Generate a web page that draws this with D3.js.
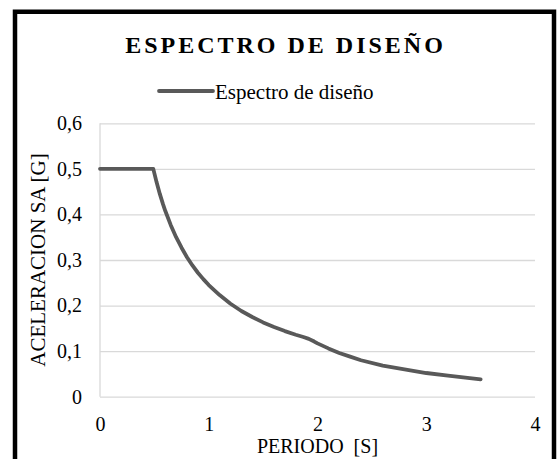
<!DOCTYPE html>
<html>
<head>
<meta charset="utf-8">
<script src="https://cdn.jsdelivr.net/npm/d3@7"></script>
<style>
  html, body { margin: 0; padding: 0; background: #fff; }
  svg { display: block; }
</style>
</head>
<body>
<svg id="chart" width="558" height="459"></svg>
<script>
// ---- data ----
const chartTitle = "ESPECTRO DE DISEÑO";
const seriesName = "Espectro de diseño";
const xAxisTitle = "PERIODO\u00A0\u00A0[S]";
const yAxisTitle = "ACELERACION SA [G]";
const periods = [0, 0.49, 0.52, 0.55, 0.58, 0.6, 0.65, 0.7, 0.75, 0.8, 0.85, 0.9, 0.95, 1.0, 1.1, 1.2, 1.3, 1.4, 1.5, 1.6, 1.7, 1.8, 1.87, 1.92,
                 1.97, 2.0, 2.1, 2.2, 2.3, 2.4, 2.6, 2.8, 3.0, 3.2, 3.4, 3.5];
const accel   = [0.5, 0.5, 0.471, 0.445, 0.422, 0.408, 0.377, 0.35, 0.327, 0.306, 0.288, 0.272, 0.258, 0.245, 0.223, 0.204, 0.188, 0.175, 0.163, 0.153, 0.144, 0.136, 0.131, 0.127,
                 0.121, 0.117, 0.106, 0.096, 0.088, 0.080, 0.068, 0.060, 0.052, 0.046, 0.041, 0.038];
const xTicks = [0, 1, 2, 3, 4];
const yTicks = [0, 0.1, 0.2, 0.3, 0.4, 0.5, 0.6];
const yTickLabels = ["0", "0,1", "0,2", "0,3", "0,4", "0,5", "0,6"];

const svg = d3.select("#chart");
const serif = "'Liberation Serif', 'Times New Roman', serif";

// frame
svg.append("rect")
  .attr("x", 15).attr("y", 11.75)
  .attr("width", 539).attr("height", 470)
  .attr("fill", "none").attr("stroke", "#000").attr("stroke-width", 4.5);

const plot = { left: 100, right: 535, top: 123.3, bottom: 396.7 };
const x = d3.scaleLinear().domain([0, 4]).range([plot.left, plot.right]);
const y = d3.scaleLinear().domain([0, 0.6]).range([plot.bottom, plot.top]);

// gridlines (horizontal)
const yAxis = d3.axisLeft(y).tickValues(yTicks)
  .tickSize(-(plot.right - plot.left))
  .tickFormat((d, i) => yTickLabels[i])
  .tickPadding(18);
const gy = svg.append("g").attr("transform", `translate(${plot.left},0)`).call(yAxis);
gy.select(".domain").remove();
gy.selectAll(".tick line").attr("stroke", "#d9d9d9").attr("stroke-width", 1.3);
gy.selectAll(".tick text")
  .attr("font-family", serif).attr("font-size", 20).attr("fill", "#000");

// vertical axis line
svg.append("line")
  .attr("x1", x(0)).attr("x2", x(0))
  .attr("y1", y(0.6)).attr("y2", y(0))
  .attr("stroke", "#d9d9d9").attr("stroke-width", 1.3);

// x axis labels
const xAxis = d3.axisBottom(x).tickValues(xTicks).tickSize(0).tickPadding(20)
  .tickFormat(d3.format("d"));
const gx = svg.append("g").attr("transform", `translate(0,${plot.bottom})`).call(xAxis);
gx.select(".domain").remove();
gx.selectAll(".tick text")
  .attr("font-family", serif).attr("font-size", 20).attr("fill", "#000");

// series line
const line = d3.line()
  .x((d, i) => x(periods[i]))
  .y((d, i) => y(accel[i]))
  .curve(d3.curveLinear);
svg.append("path")
  .datum(accel)
  .attr("d", line)
  .attr("fill", "none")
  .attr("stroke", "#595959")
  .attr("stroke-width", 3.8)
  .attr("stroke-linejoin", "round")
  .attr("stroke-linecap", "round");

// title
svg.append("text")
  .attr("x", 285.5).attr("y", 53)
  .attr("text-anchor", "middle")
  .attr("font-family", serif).attr("font-weight", "bold")
  .attr("font-size", 24).attr("letter-spacing", 3)
  .attr("fill", "#000")
  .text(chartTitle);

// legend
svg.append("line")
  .attr("x1", 159).attr("x2", 213).attr("y1", 91).attr("y2", 91)
  .attr("stroke", "#595959").attr("stroke-width", 3.8).attr("stroke-linecap", "round");
svg.append("text")
  .attr("x", 215).attr("y", 98.5)
  .attr("font-family", serif).attr("font-size", 21).attr("fill", "#000")
  .text(seriesName);

// axis titles
svg.append("text")
  .attr("x", (plot.left + plot.right) / 2).attr("y", 453)
  .attr("text-anchor", "middle")
  .attr("font-family", serif).attr("font-size", 20).attr("fill", "#000")
  .text(xAxisTitle);

svg.append("text")
  .attr("transform", `translate(45,${(plot.top + plot.bottom) / 2}) rotate(-90)`)
  .attr("text-anchor", "middle")
  .attr("font-family", serif).attr("font-size", 21).attr("fill", "#000")
  .text(yAxisTitle);
</script>
</body>
</html>
